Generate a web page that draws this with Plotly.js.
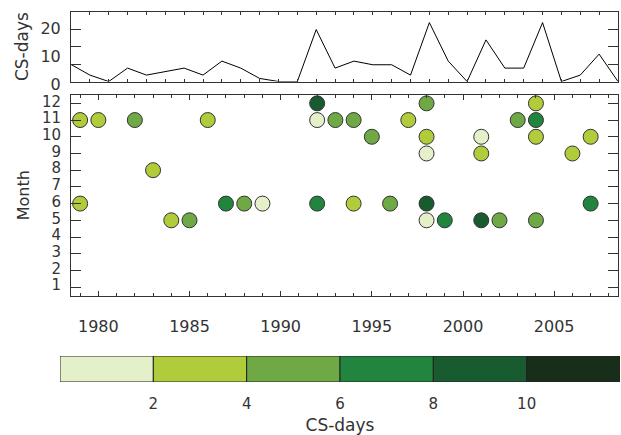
<!DOCTYPE html>
<html>
<head>
<meta charset="utf-8">
<script src="https://cdn.plot.ly/plotly-3.0.1.min.js"></script>
<style>html,body{margin:0;padding:0;background:#fff;}#chart{width:621px;height:435px;}</style>
</head>
<body>
<div id="chart"></div>
<script>
// ---- Data ----
// Top panel: total CS-days per year
const years = [1979,1980,1981,1982,1983,1984,1985,1986,1987,1988,1989,1990,1991,1992,1993,
               1994,1995,1996,1997,1998,1999,2000,2001,2002,2003,2004,2005,2006,2007,2008];
const csDaysPerYear = [6.1,2.3,0,4.8,2.3,3.6,4.8,2.3,7.3,4.8,1.1,0,0,18.6,4.8,
                       7.3,6.0,6.0,2.3,21.1,7.3,0,14.9,4.8,4.8,21.1,0,2.3,9.8,0];

// Main panel: individual events (year, month, CS-days estimated from colour bin)
const eventYear  = [1979,1979,1980,1982,1983,1984,1985,1986,1987,1988,1989,
                    1992,1992,1992,1993,1994,1994,1995,1996,1997,
                    1998,1998,1998,1998,1998,1999,2001,2001,2001,2002,2003,
                    2004,2004,2004,2004,2006,2007,2007];
const eventMonth = [11,6,11,11,8,5,5,11,6,6,6,
                    12,11,6,11,11,6,10,6,11,
                    12,10,9,6,5,5,10,9,5,5,11,
                    12,11,10,5,9,10,6];
const eventDays  = [3,3,3,5,3,3,5,3,7,5,1,
                    9,1,7,5,5,3,5,5,3,
                    5,3,1,9,1,7,1,3,9,5,5,
                    3,7,3,5,3,3,7];

// Colour scale bins
const binEdges   = [0,2,4,6,8,10,12];
const binCenters = [1,3,5,7,9,11];
const binColors  = ['#e4f0c9','#b0cc3b','#6ea945','#22853f','#185b2f','#182d1a'];
const colorbarTicks = [2,4,6,8,10];

// Axis tick settings
const monthTicks = [1,2,3,4,5,6,7,8,9,10,11,12];
const topTickLabels = [0,10,20];
const topMinorTicks = [6.25,12.5,18.75];

// ---- Build discrete colorscale ----
const cmin = binEdges[0], cmax = binEdges[binEdges.length-1];
const colorscale = [];
for (let i = 0; i < binColors.length; i++) {
  colorscale.push([(binEdges[i]-cmin)/(cmax-cmin), binColors[i]]);
  colorscale.push([(binEdges[i+1]-cmin)/(cmax-cmin), binColors[i]]);
}

const ink = '#333';
const W = 621, H = 435;
const px = v => v / W;
const py = v => 1 - v / H;

const traces = [
  {
    type: 'scatter', mode: 'lines',
    x: years, y: csDaysPerYear,
    xaxis: 'x2', yaxis: 'y2',
    line: {color: '#000', width: 1},
    hoverinfo: 'skip', cliponaxis: false
  },
  {
    type: 'scatter', mode: 'markers',
    x: eventYear, y: eventMonth,
    xaxis: 'x', yaxis: 'y',
    marker: {size: 15, color: eventDays, colorscale: colorscale, cmin: cmin, cmax: cmax,
             showscale: false, line: {color: ink, width: 1}},
    hoverinfo: 'skip', cliponaxis: false
  },
  {
    type: 'bar',
    x: binCenters, y: binCenters.map(() => 1),
    width: binCenters.map((c, i) => binEdges[i+1] - binEdges[i]),
    xaxis: 'x3', yaxis: 'y3',
    marker: {color: binCenters, colorscale: colorscale, cmin: cmin, cmax: cmax,
             line: {color: '#222', width: 1}},
    hoverinfo: 'skip'
  }
];

const common = {
  showgrid: false, zeroline: false, automargin: false,
  linecolor: ink, linewidth: 1, tickcolor: ink, tickwidth: 1
};

const layout = {
  width: W, height: H,
  margin: {l: 0, r: 0, t: 0, b: 0},
  paper_bgcolor: '#fff', plot_bgcolor: '#fff',
  showlegend: false, bargap: 0,
  font: {family: 'DejaVu Sans', size: 15, color: ink},
  xaxis: Object.assign({}, common, {
    domain: [px(71), px(618)], anchor: 'y',
    range: [1978.5, 2008.5],
    tickmode: 'linear', tick0: 1980, dtick: 5,
    ticks: 'inside', ticklen: 5,
    minor: {tickmode: 'linear', tick0: 1980, dtick: 1, ticks: 'inside', ticklen: 3, tickcolor: ink},
    showline: true, mirror: 'allticks',
    tickfont: {size: 16}, ticklabelstandoff: 16
  }),
  yaxis: Object.assign({}, common, {
    domain: [py(295.5), py(95)], anchor: 'x',
    range: [0.5, 12.5],
    tickmode: 'array', tickvals: monthTicks,
    ticks: 'inside', ticklen: 10,
    showline: true, mirror: 'allticks',
    ticklabelstandoff: 6, ticklabelshift: -2,
    title: {text: 'Month', font: {size: 16}, standoff: 8}
  }),
  xaxis2: Object.assign({}, common, {
    domain: [px(71), px(618)], anchor: 'y2',
    range: [1979, 2008],
    tickmode: 'linear', tick0: 1979, dtick: 1,
    ticks: 'inside', ticklen: 3,
    showticklabels: false,
    showline: true, mirror: 'allticks'
  }),
  yaxis2: Object.assign({}, common, {
    domain: [py(81.5), py(11.7)], anchor: 'x2',
    range: [0, 25],
    tickmode: 'array', tickvals: topTickLabels,
    ticks: '',
    minor: {tickmode: 'array', tickvals: topMinorTicks, ticks: 'inside', ticklen: 10, tickcolor: ink},
    showline: true, mirror: 'allticks',
    tickfont: {size: 16},
    ticklabelstandoff: 6, ticklabelshift: 3,
    title: {text: 'CS-days', font: {size: 17}, standoff: 7}
  }),
  xaxis3: Object.assign({}, common, {
    domain: [px(60), px(620)], anchor: 'y3',
    range: [cmin, cmax],
    tickmode: 'array', tickvals: colorbarTicks,
    ticks: '', showline: false,
    ticklabelstandoff: 11,
    title: {text: 'CS-days', font: {size: 17}, standoff: 7}
  }),
  yaxis3: Object.assign({}, common, {
    domain: [py(382), py(356)], anchor: 'x3',
    range: [0, 1], visible: false
  })
};

Plotly.newPlot('chart', traces, layout, {staticPlot: true, displayModeBar: false});
</script>
</body>
</html>
